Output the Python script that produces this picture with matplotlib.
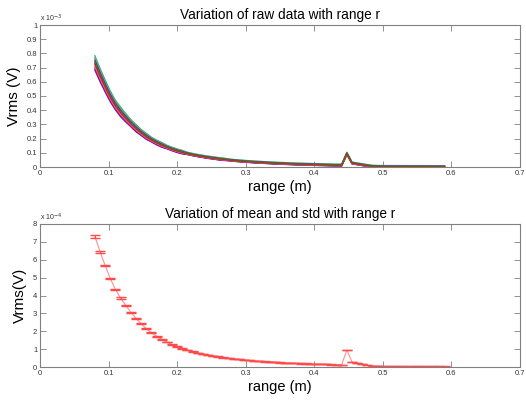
import matplotlib
matplotlib.use("Agg")
import matplotlib.pyplot as plt
from matplotlib.ticker import FuncFormatter
import numpy as np

# ---- data ----
r = [0.08, 0.0875, 0.095, 0.1025, 0.11, 0.1175, 0.125, 0.1325, 0.14, 0.1475,
     0.155, 0.1625, 0.17, 0.1775, 0.185, 0.1925, 0.2, 0.2075, 0.215, 0.2225,
     0.23, 0.2375, 0.245, 0.2525, 0.26, 0.2675, 0.275, 0.2825, 0.29, 0.2975,
     0.305, 0.3125, 0.32, 0.3275, 0.335, 0.3425, 0.35, 0.3575, 0.365, 0.3725,
     0.38, 0.3875, 0.395, 0.4025, 0.41, 0.4175, 0.425, 0.4325, 0.44, 0.4475,
     0.455, 0.4625, 0.47, 0.4775, 0.485, 0.4925, 0.5, 0.5075, 0.515, 0.5225,
     0.53, 0.5375, 0.545, 0.5525, 0.56, 0.5675, 0.575, 0.5825, 0.59]
mean_e4 = [7.30, 6.46, 5.68, 4.95, 4.34, 3.86, 3.45, 3.07, 2.72, 2.42,
           2.15, 1.92, 1.72, 1.55, 1.40, 1.26, 1.14, 1.04, 0.95, 0.87,
           0.80, 0.74, 0.68, 0.63, 0.58, 0.54, 0.50, 0.46, 0.43, 0.40,
           0.375, 0.35, 0.33, 0.31, 0.29, 0.27, 0.255, 0.24, 0.225, 0.21,
           0.20, 0.19, 0.18, 0.17, 0.16, 0.15, 0.14, 0.13, 0.13, 0.95,
           0.28, 0.22, 0.16, 0.10, 0.05, 0.04, 0.035, 0.033, 0.032, 0.031,
           0.030, 0.029, 0.028, 0.028, 0.027, 0.027, 0.026, 0.026, 0.025]
std_e4 = [0.06, 0.055, 0.05, 0.045, 0.04, 0.04, 0.035, 0.03, 0.03, 0.025,
          0.025, 0.02, 0.02, 0.02, 0.015, 0.015, 0.015, 0.015, 0.01, 0.01,
          0.01, 0.01, 0.01, 0.01, 0.01, 0.01, 0.008, 0.008, 0.008, 0.008,
          0.008, 0.008, 0.008, 0.008, 0.008, 0.008, 0.008, 0.008, 0.008, 0.008,
          0.008, 0.008, 0.008, 0.008, 0.008, 0.008, 0.008, 0.008, 0.008, 0.01,
          0.008, 0.008, 0.008, 0.008, 0.008, 0.008, 0.008, 0.008, 0.008, 0.008,
          0.008, 0.008, 0.008, 0.008, 0.008, 0.008, 0.008, 0.008, 0.008]
# per-trace offsets (in units of std) for the raw traces
trace_offsets = [-8.0, 9.0, -6.5, 7.0, -5.0, 5.5, -3.5, 4.0, -2.0, 2.5, -1.0, 1.0, 0.0]
trace_colors = ['#0000ff', '#00b050', '#ff0000', '#00bfbf', '#bf00bf', '#e0a000', '#ff66cc',
                '#8000ff', '#ff8000', '#2040c0', '#c00060', '#40a000', '#8b4513']

yticks_top = [0, 0.1, 0.2, 0.3, 0.4, 0.5, 0.6, 0.7, 0.8, 0.9, 1.0]
yticks_bot = [0, 1, 2, 3, 4, 5, 6, 7, 8]
xticks = [0, 0.1, 0.2, 0.3, 0.4, 0.5, 0.6, 0.7]

r_arr = np.array(r)
mean_v = np.array(mean_e4) * 1e-4
std_v = np.array(std_e4) * 1e-4

plt.rcParams['font.family'] = ['Liberation Sans', 'DejaVu Sans']
fig = plt.figure(figsize=(5.26, 4.0), dpi=100)
ax1 = fig.add_axes([40/526, 1-167/400, 480/526, 142/400])
ax2 = fig.add_axes([40/526, 1-367/400, 480/526, 143/400])

for k, c in zip(trace_offsets, trace_colors):
    ax1.plot(r_arr, mean_v + k * std_v, color=c, lw=0.9, alpha=0.85)

ax2.plot(r_arr, mean_v, color='#ff9090', lw=0.8)
ax2.errorbar(r_arr, mean_v, yerr=std_v, fmt='none', ecolor='#ff4a4a',
             elinewidth=0.8, capsize=3.5, capthick=1.0)

spine_c = '#808080'
for ax, yt, scale, lab, ttl, exp in [
        (ax1, yticks_top, 1e-3, 'Vrms (V)', 'Variation of raw data with range r', '-3'),
        (ax2, yticks_bot, 1e-4, 'Vrms(V)', 'Variation of mean and std with range r', '-4')]:
    ax.set_xlim(0, 0.7)
    ax.set_ylim(yt[0] * scale, yt[-1] * scale)
    ax.set_xticks(xticks)
    ax.set_yticks([v * scale for v in yt])
    ax.xaxis.set_major_formatter(FuncFormatter(lambda v, p: '%g' % round(v, 3)))
    ax.yaxis.set_major_formatter(FuncFormatter(lambda v, p, s=scale: '%g' % round(v / s, 3)))
    ax.tick_params(direction='in', length=4, width=0.6, color=spine_c,
                   labelsize=5.5, labelcolor='#333333', top=True, right=True, pad=2)
    for s in ax.spines.values():
        s.set_color(spine_c)
        s.set_linewidth(0.8)
    ax.set_xlabel('range (m)', fontsize=10.5, labelpad=2)
    ax.set_ylabel(lab, fontsize=11, labelpad=4)
    ax.set_title(ttl, fontsize=9.8, pad=4)
    ax.text(0.0, 1.01, r'x 10$^{%s}$' % exp, transform=ax.transAxes,
            fontsize=5, color='#333333', ha='left', va='bottom')

fig.savefig('out.png', dpi=100)
